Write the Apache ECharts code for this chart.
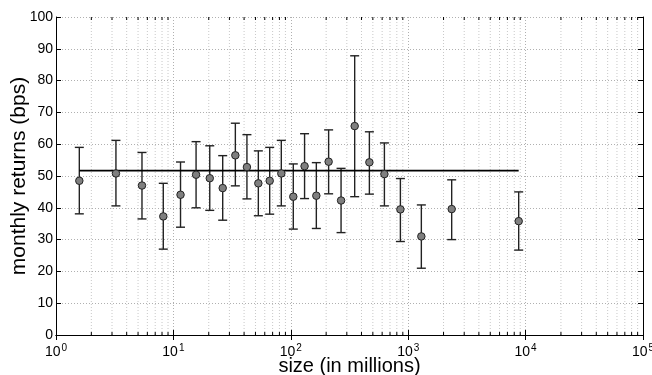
<!DOCTYPE html>
<html>
<head>
<meta charset="utf-8">
<script src="https://cdn.jsdelivr.net/npm/echarts@6/dist/echarts.min.js"></script>
<style>html,body{margin:0;padding:0;background:#fff}#c{width:652px;height:375px}</style>
</head>
<body>
<div id="c"></div>
<script>
// size buckets (in millions)
const sizes = [1.58, 3.24, 5.4, 8.2, 11.5, 15.6, 20.4, 26.3, 33.7, 42.3, 52.9, 66.1, 83, 105, 131, 165, 210, 268, 350, 467, 627, 858, 1294, 2346, 8730];
// monthly returns (bps)
const means = [48.5, 50.8, 47.0, 37.3, 44.1, 50.4, 49.3, 46.2, 56.5, 52.8, 47.7, 48.5, 50.8, 43.5, 53.1, 43.8, 54.5, 42.3, 65.7, 54.3, 50.6, 39.5, 31.0, 39.6, 35.8];
const upper = [59.0, 61.2, 57.4, 47.7, 54.4, 60.8, 59.5, 56.4, 66.6, 63.0, 57.9, 59.0, 61.2, 53.8, 63.3, 54.2, 64.5, 52.4, 87.8, 63.9, 60.4, 49.2, 40.9, 48.8, 45.0];
const lower = [38.1, 40.6, 36.5, 27.0, 33.9, 40.0, 39.2, 36.1, 46.9, 42.8, 37.5, 38.0, 40.6, 33.3, 42.9, 33.5, 44.4, 32.2, 43.5, 44.3, 40.6, 29.4, 21.0, 30.0, 26.7];
const avgReturn = 51.7;
// axis ranges
const xMin = 1, xMax = 100000;
const yMin = 0, yMax = 100, yStep = 10;
const minorTicks = [];
for (let e = 0; e < 5; e++) for (let m = 2; m <= 9; m++) minorTicks.push(m * Math.pow(10, e));

const FONT = 'Liberation Sans, Arial, sans-serif';
const chart = echarts.init(document.getElementById('c'), null, {renderer: 'canvas'});

const xCommon = {
  type: 'log', logBase: 10, min: xMin, max: xMax,
  axisLine: {show: true, lineStyle: {color: '#000', width: 1}},
  axisTick: {show: true, inside: true, length: 5, lineStyle: {color: '#000'}},
  minorTick: {show: false}
};
const yCommon = {
  type: 'value', min: yMin, max: yMax, interval: yStep,
  axisLine: {show: true, lineStyle: {color: '#000', width: 1}},
  axisTick: {show: true, inside: true, length: 5, lineStyle: {color: '#000'}}
};

chart.setOption({
  animation: false,
  grid: {left: 56, right: 9, top: 17, bottom: 40, containLabel: false, outerBoundsMode: 'none'},
  xAxis: [
    Object.assign({}, xCommon, {
      position: 'bottom',
      name: 'size (in millions)', nameLocation: 'middle', nameGap: 31, nameMoveOverlap: false,
      nameTextStyle: {fontFamily: FONT, fontSize: 20, color: '#000', verticalAlign: 'middle'},
      axisLabel: {
        margin: 8, fontFamily: FONT, color: '#000',
        formatter: v => '{b|10}{s|' + Math.round(Math.log10(v)) + '}',
        rich: {
          b: {fontFamily: FONT, fontSize: 14, color: '#000'},
          s: {fontFamily: FONT, fontSize: 10, color: '#000', padding: [0, 0, 9, 1]}
        }
      },
      splitLine: {show: true, lineStyle: {color: '#b0b0b0', type: [1, 2], width: 1}}
    }),
    Object.assign({}, xCommon, {
      position: 'top', axisLabel: {show: false}, splitLine: {show: false}
    })
  ],
  yAxis: [
    Object.assign({}, yCommon, {
      position: 'left',
      name: 'monthly returns (bps)', nameLocation: 'middle', nameGap: 37, nameMoveOverlap: false,
      nameTextStyle: {fontFamily: FONT, fontSize: 21, color: '#000', verticalAlign: 'middle'},
      axisLabel: {margin: 3, fontFamily: FONT, fontSize: 14, color: '#000'},
      splitLine: {show: true, lineStyle: {color: '#b0b0b0', type: [1, 2], width: 1}}
    }),
    Object.assign({}, yCommon, {
      position: 'right', axisLabel: {show: false}, splitLine: {show: false}
    })
  ],
  series: [
    {
      type: 'custom', name: 'minor', xAxisIndex: 0, yAxisIndex: 0, silent: true, z: 0,
      data: minorTicks.map(v => [v]),
      renderItem: (params, api) => {
        const v = api.value(0);
        const b = api.coord([v, yMin]);
        const t = api.coord([v, yMax]);
        return {
          type: 'group',
          children: [
            {type: 'line', shape: {x1: b[0], y1: b[1], x2: t[0], y2: t[1]},
             style: {stroke: '#c8c8c8', lineWidth: 1, lineDash: [1, 2]}},
            {type: 'line', shape: {x1: b[0], y1: b[1], x2: b[0], y2: b[1] - 3},
             style: {stroke: '#000', lineWidth: 1}},
            {type: 'line', shape: {x1: t[0], y1: t[1], x2: t[0], y2: t[1] + 3},
             style: {stroke: '#000', lineWidth: 1}}
          ]
        };
      }
    },
    {
      type: 'custom', name: 'errors', silent: true, z: 2,
      data: sizes.map((s, i) => [s, lower[i], upper[i]]),
      renderItem: (params, api) => {
        const x = api.value(0);
        const lo = api.coord([x, api.value(1)]);
        const hi = api.coord([x, api.value(2)]);
        const hw = 4.5;
        const st = {stroke: '#222', lineWidth: 1.4};
        return {
          type: 'group',
          children: [
            {type: 'line', shape: {x1: lo[0], y1: lo[1], x2: hi[0], y2: hi[1]}, style: st},
            {type: 'line', shape: {x1: lo[0] - hw, y1: lo[1], x2: lo[0] + hw, y2: lo[1]}, style: st},
            {type: 'line', shape: {x1: hi[0] - hw, y1: hi[1], x2: hi[0] + hw, y2: hi[1]}, style: st}
          ]
        };
      }
    },
    {
      type: 'line', name: 'avg', z: 3, silent: true,
      data: [[sizes[0], avgReturn], [sizes[sizes.length - 1], avgReturn]],
      symbol: 'none', lineStyle: {color: '#000', width: 1.6}
    },
    {
      type: 'scatter', name: 'mean', z: 4, silent: true,
      data: sizes.map((s, i) => [s, means[i]]),
      symbol: 'circle', symbolSize: 7.5,
      itemStyle: {color: '#7f7f7f', borderColor: '#222', borderWidth: 1, opacity: 1}
    }
  ]
});
</script>
</body>
</html>
